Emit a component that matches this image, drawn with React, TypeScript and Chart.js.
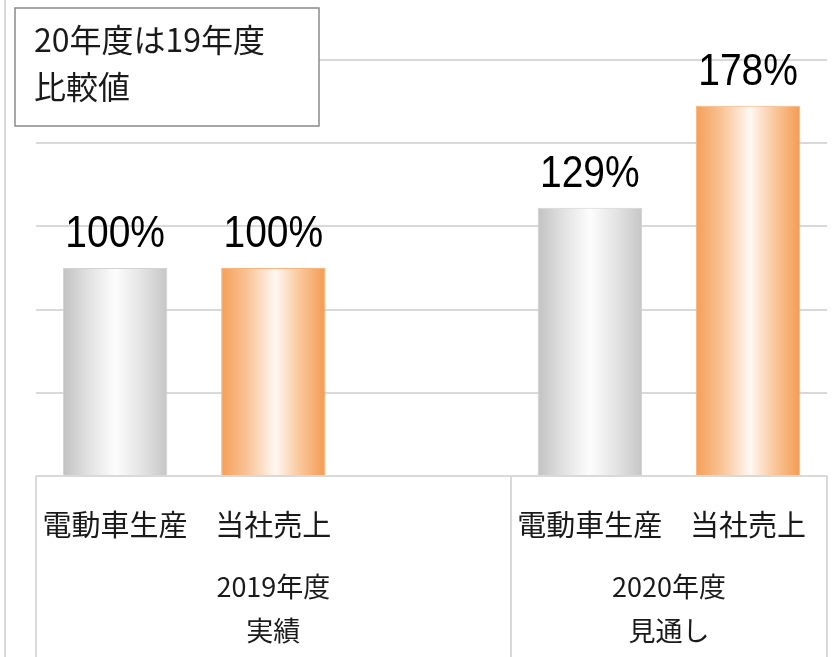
import React, { useEffect, useRef } from 'react';
import { Chart, registerables } from 'chart.js';

Chart.register(...registerables);

// ---- data ----
const categories: string[] = ['電動車生産', '当社売上', '', '電動車生産', '当社売上'];
const values: (number | null)[] = [100, 100, null, 129, 178];
const barKinds: string[] = ['gray', 'orange', 'gray', 'gray', 'orange'];
const groupLabels: string[][] = [['2019年度', '実績'], ['2020年度', '見通し']];
const groupSpans: number[][] = [[0, 2], [3, 4]];
const yMin = 0;
const yMax = 200;
const yStep = 40;
const noteLines: string[] = ['20年度は19年度', '比較値'];

const palettes: Record<string, { stops: [number, string][]; border: string }> = {
  gray: {
    stops: [[0, '#c2c2c2'], [0.25, '#e2e2e2'], [0.5, '#fdfdfd'], [0.75, '#e4e4e4'], [1, '#c6c6c6']],
    border: '#d2d2d2',
  },
  orange: {
    stops: [[0, '#f59f58'], [0.25, '#f8c496'], [0.52, '#fff8f2'], [0.75, '#f9c89c'], [1, '#f59b50']],
    border: '#f8b47c',
  },
};

const BAR_PCT = 0.66;
const JP_FONT = '"Noto Sans CJK JP", "Noto Sans", sans-serif';

export default function App() {
  const ref = useRef<HTMLCanvasElement | null>(null);

  useEffect(() => {
    const canvas = ref.current;
    if (!canvas) return;

    const barGradient = (c: any) => {
      const chart = c.chart;
      const kind = barKinds[c.dataIndex] || 'gray';
      const pal = palettes[kind];
      const xs = chart.scales?.x;
      if (!chart.chartArea || !xs) return pal.stops[2][1];
      const center = xs.getPixelForValue(c.dataIndex);
      const catW = (chart.chartArea.right - chart.chartArea.left) / categories.length;
      const w = catW * BAR_PCT;
      const g = chart.ctx.createLinearGradient(center - w / 2, 0, center + w / 2, 0);
      pal.stops.forEach(([o, col]) => g.addColorStop(o, col));
      return g;
    };

    const decorPlugin = {
      id: 'decor',
      afterDatasetsDraw(chart: any) {
        const ctx = chart.ctx;
        const meta = chart.getDatasetMeta(0);
        ctx.save();
        ctx.fillStyle = '#000';
        ctx.font = '39px "Liberation Sans", Arial, sans-serif';
        ctx.textAlign = 'center';
        ctx.textBaseline = 'alphabetic';
        meta.data.forEach((el: any, i: number) => {
          const v = values[i];
          if (v == null) return;
          ctx.save();
          ctx.translate(el.x, el.y - 21);
          ctx.scale(1, 1.13);
          ctx.fillText(`${v}%`, 0, 0);
          ctx.restore();
        });
        ctx.restore();
      },
      afterDraw(chart: any) {
        const ctx = chart.ctx;
        const { chartArea } = chart;
        const xs = chart.scales.x;
        const catW = (chartArea.right - chartArea.left) / categories.length;
        const H = chart.height;
        ctx.save();
        // outer left border
        ctx.strokeStyle = '#d9d9d9';
        ctx.lineWidth = 2;
        ctx.beginPath();
        ctx.moveTo(5, 0);
        ctx.lineTo(5, H);
        ctx.stroke();
        // group separators
        const edges: number[] = [];
        groupSpans.forEach(([a, b], gi) => {
          const l = xs.getPixelForValue(a) - catW / 2;
          const r = xs.getPixelForValue(b) + catW / 2;
          if (gi === 0) edges.push(l);
          edges.push(r);
        });
        ctx.beginPath();
        edges.forEach((x) => {
          ctx.moveTo(Math.round(x), chartArea.bottom);
          ctx.lineTo(Math.round(x), H);
        });
        ctx.stroke();
        // group labels
        ctx.fillStyle = '#1a1a1a';
        ctx.font = `27px ${JP_FONT}`;
        ctx.textAlign = 'center';
        ctx.textBaseline = 'middle';
        groupSpans.forEach(([a, b], gi) => {
          const l = xs.getPixelForValue(a) - catW / 2;
          const r = xs.getPixelForValue(b) + catW / 2;
          const cx = (l + r) / 2;
          groupLabels[gi].forEach((t, li) => {
            ctx.fillText(t, cx, chartArea.bottom + 111 + li * 44);
          });
        });
        // note box
        const bx = 15, by = 8, bw = 304, bh = 118;
        ctx.fillStyle = '#fff';
        ctx.fillRect(bx, by, bw, bh);
        ctx.strokeStyle = '#8a8a8a';
        ctx.lineWidth = 1.5;
        ctx.strokeRect(bx, by, bw, bh);
        ctx.fillStyle = '#1a1a1a';
        ctx.font = `32px ${JP_FONT}`;
        ctx.textAlign = 'left';
        ctx.textBaseline = 'middle';
        noteLines.forEach((t, i) => {
          ctx.fillText(t, 34, 40 + i * 47);
        });
        ctx.restore();
      },
    };

    const chart = new Chart(canvas, {
      type: 'bar',
      data: {
        labels: categories,
        datasets: [
          {
            data: values,
            backgroundColor: barGradient,
            borderColor: barKinds.map((k) => palettes[k].border),
            borderWidth: 1,
            barPercentage: BAR_PCT,
            categoryPercentage: 1,
          },
        ],
      },
      options: {
        responsive: false,
        animation: false,
        devicePixelRatio: 1,
        layout: { padding: { left: 36, right: 9, top: 60, bottom: 0 } },
        plugins: {
          legend: { display: false },
          tooltip: { enabled: false },
          title: { display: false },
        },
        scales: {
          x: {
            grid: { display: false, drawTicks: false },
            border: { display: false },
            ticks: {
              autoSkip: false,
              maxRotation: 0,
              minRotation: 0,
              padding: 32,
              color: '#1a1a1a',
              font: { family: JP_FONT, size: 29 },
            },
            afterFit: (s: any) => {
              s.height = 181;
            },
          },
          y: {
            min: yMin,
            max: yMax,
            ticks: { stepSize: yStep, display: false },
            grid: { color: '#d9d9d9', lineWidth: 2, drawTicks: false },
            border: { display: false },
            afterFit: (s: any) => {
              s.width = 0;
            },
          },
        },
      },
      plugins: [decorPlugin],
    });

    return () => chart.destroy();
  }, []);

  return (
    <div style={{ position: 'fixed', left: 0, top: 0, width: 839, height: 657, background: '#fff' }}>
      <canvas ref={ref} width={839} height={657} style={{ width: 839, height: 657, display: 'block' }} />
    </div>
  );
}
